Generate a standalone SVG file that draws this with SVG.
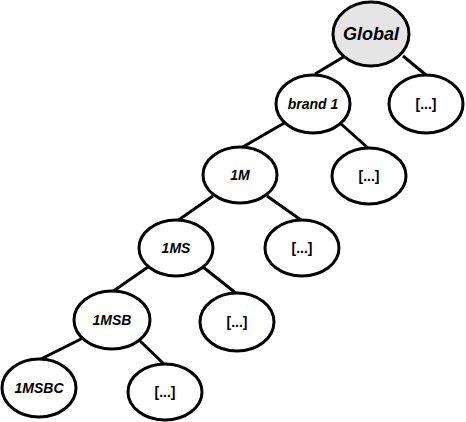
<svg xmlns="http://www.w3.org/2000/svg" width="466" height="422" viewBox="0 0 466 422">
<style>
.n ellipse{fill:#fff;stroke:#000;stroke-width:3}
#global ellipse{fill:#e5e5e5}
.e line{stroke:#000;stroke-width:3}
text{font-family:"Liberation Sans",Arial,sans-serif;font-weight:bold;text-anchor:middle;fill:#000}
.i{font-style:italic;font-size:14px}
.d{font-size:14px}
</style>
<rect width="466" height="422" fill="#fff"/>
<g id="connectors" class="e">
<line x1="315" y1="74" x2="345" y2="56"/>
<line x1="403" y1="56" x2="426" y2="75"/>
<line x1="286" y1="122" x2="241" y2="148"/>
<line x1="340" y1="123" x2="368" y2="148"/>
<line x1="213" y1="196" x2="177" y2="221"/>
<line x1="267" y1="196" x2="301" y2="220"/>
<line x1="148" y1="267" x2="112" y2="292"/>
<line x1="203" y1="267" x2="237" y2="294"/>
<line x1="83" y1="338" x2="39" y2="360"/>
<line x1="138" y1="339" x2="165" y2="365"/>
</g>
<g id="global" class="n"><ellipse cx="371" cy="34" rx="38" ry="32"/><text x="371" y="40" class="i" style="font-size:18px">Global</text></g>
<g id="brand1" class="n"><ellipse cx="313" cy="104" rx="37" ry="29"/><text x="313" y="109" class="i">brand 1</text></g>
<g id="etc1" class="n"><ellipse cx="426" cy="104" rx="37" ry="29"/><text x="426" y="109" class="d">[...]</text></g>
<g id="n1M" class="n"><ellipse cx="240" cy="175" rx="37" ry="28"/><text x="240" y="180" class="i">1M</text></g>
<g id="etc2" class="n"><ellipse cx="369" cy="176" rx="37" ry="28"/><text x="369" y="181" class="d">[...]</text></g>
<g id="n1MS" class="n"><ellipse cx="176" cy="248" rx="37" ry="28"/><text x="176" y="253" class="i">1MS</text></g>
<g id="etc3" class="n"><ellipse cx="302" cy="248" rx="37" ry="28"/><text x="302" y="253" class="d">[...]</text></g>
<g id="n1MSB" class="n"><ellipse cx="112" cy="320" rx="38" ry="29"/><text x="112" y="325" class="i">1MSB</text></g>
<g id="etc4" class="n"><ellipse cx="237" cy="322" rx="37" ry="29"/><text x="237" y="327" class="d">[...]</text></g>
<g id="n1MSBC" class="n"><ellipse cx="39" cy="388" rx="37" ry="29"/><text x="39" y="393" class="i">1MSBC</text></g>
<g id="etc5" class="n"><ellipse cx="165" cy="392" rx="37" ry="28"/><text x="165" y="397" class="d">[...]</text></g>
</svg>
